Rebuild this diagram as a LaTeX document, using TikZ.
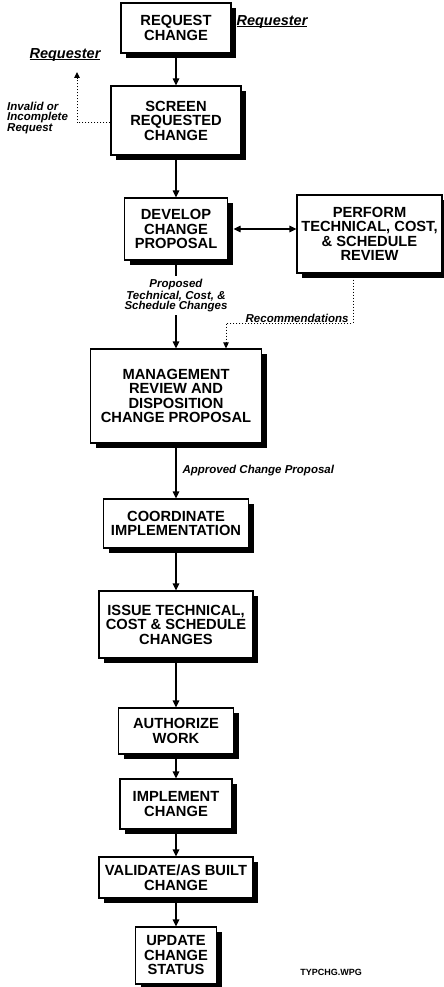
\documentclass[tikz,border=0pt]{standalone}
\usepackage{fontspec}
\setmainfont{Liberation Sans}
\usetikzlibrary{shapes.geometric, arrows.meta, shadows}
\newcommand{\flowfont}{\fontsize{14.7}{14.5}\selectfont\bfseries}
\newcommand{\tagfont}{\fontsize{11.5}{10.5}\selectfont\bfseries\itshape}
\newcommand{\askline}[1]{\setbox0\hbox{#1}\rlap{\rule[-2pt]{\wd0}{1pt}}\box0}
\tikzstyle{process} = [
    rectangle,
    draw=black,
    line width=1.2pt,
    fill=white,
    align=center,
    inner sep=2pt,
    font=\flowfont,
    drop shadow={shadow xshift=5pt, shadow yshift=-5pt, opacity=1, fill=black}
]
\tikzstyle{tag} = [
    font=\tagfont,
    inner sep=1pt
]
\tikzstyle{asker} = [
    font=\fontsize{14.5}{14.5}\selectfont\bfseries\itshape,
    inner sep=1pt
]
\tikzstyle{arrow} = [line width=1.2pt,->,>={Triangle[length=7pt,width=6.5pt]}]
\tikzstyle{dotarrow} = [line width=1pt,dotted,->,>={Triangle[length=6pt,width=5.5pt]}]

\begin{document}
\begin{tikzpicture}[x=1pt, y=-1pt]
\useasboundingbox (0,0) rectangle (444,987);

\node (request) [process, minimum width=110pt, minimum height=50pt] at (176,28)
{REQUEST\\CHANGE};

\node (screen) [process, minimum width=130pt, minimum height=69pt] at (176,120.5)
{SCREEN\\REQUESTED\\CHANGE};

\node (develop) [process, minimum width=103pt, minimum height=62pt] at (176,229)
{DEVELOP\\CHANGE\\PROPOSAL};

\node (review) [process, minimum width=145pt, minimum height=78pt] at (369.5,234)
{PERFORM\\TECHNICAL, COST,\\\& SCHEDULE\\REVIEW};

\node (mgmt) [process, minimum width=171pt, minimum height=94pt] at (176,396)
{MANAGEMENT\\REVIEW AND\\DISPOSITION\\CHANGE PROPOSAL};

\node (coord) [process, minimum width=145pt, minimum height=49pt] at (176,523.5)
{COORDINATE\\IMPLEMENTATION};

\node (issue) [process, minimum width=154pt, minimum height=67pt] at (176,624.5)
{ISSUE TECHNICAL,\\COST \& SCHEDULE\\CHANGES};

\node (authorize) [process, minimum width=115pt, minimum height=46pt] at (176,731)
{AUTHORIZE\\WORK};

\node (implement) [process, minimum width=112pt, minimum height=50pt] at (176,804)
{IMPLEMENT\\CHANGE};

\node (validate) [process, minimum width=154pt, minimum height=41pt] at (176,877.5)
{VALIDATE/AS BUILT\\CHANGE};

\node (update) [process, minimum width=81pt, minimum height=57pt] at (176,955.5)
{UPDATE\\CHANGE\\STATUS};

\node (requester) [asker] at (272,22) {\askline{Requester}};
\node (returnto) [asker] at (65,55) {\askline{Requester}};
\node (invalid) [tag, anchor=west, align=left] at (6,118)
{Invalid or\\Incomplete\\Request};
\node (stamp) [font=\fontsize{9}{9}\selectfont\bfseries] at (331,972) {TYPCHG.WPG};

\coordinate (rejected) at (77,72);
\coordinate (recout) at ([xshift=-16.5pt]review.south);
\coordinate (recin) at ([xshift=50pt]mgmt.north);

\draw [arrow] (request) -- (screen);
\draw [dotarrow] ([yshift=-2.5pt]screen.west) -| (rejected);
\draw [arrow] (screen) -- (develop);
\draw [arrow, <->] ([xshift=5.5pt]develop.east) -- (develop.east -| review.west);
\draw [arrow] (develop) -- node [tag, fill=white, align=center, inner sep=3pt, pos=0.4]
{Proposed\\Technical, Cost, \&\\Schedule Changes} (mgmt);
\draw [dotarrow] (recout) -- (recout |- 0,323) -| node [tag, pos=0.22, anchor=south, inner sep=0pt]
{Recommendations} (recin);
\draw [arrow] (mgmt) -- node [tag, right, xshift=5pt] {Approved Change Proposal} (coord);
\draw [arrow] (coord) -- (issue);
\draw [arrow] (issue) -- (authorize);
\draw [arrow] (authorize) -- (implement);
\draw [arrow] (implement) -- (validate);
\draw [arrow] (validate) -- (update);

\end{tikzpicture}
\end{document}
